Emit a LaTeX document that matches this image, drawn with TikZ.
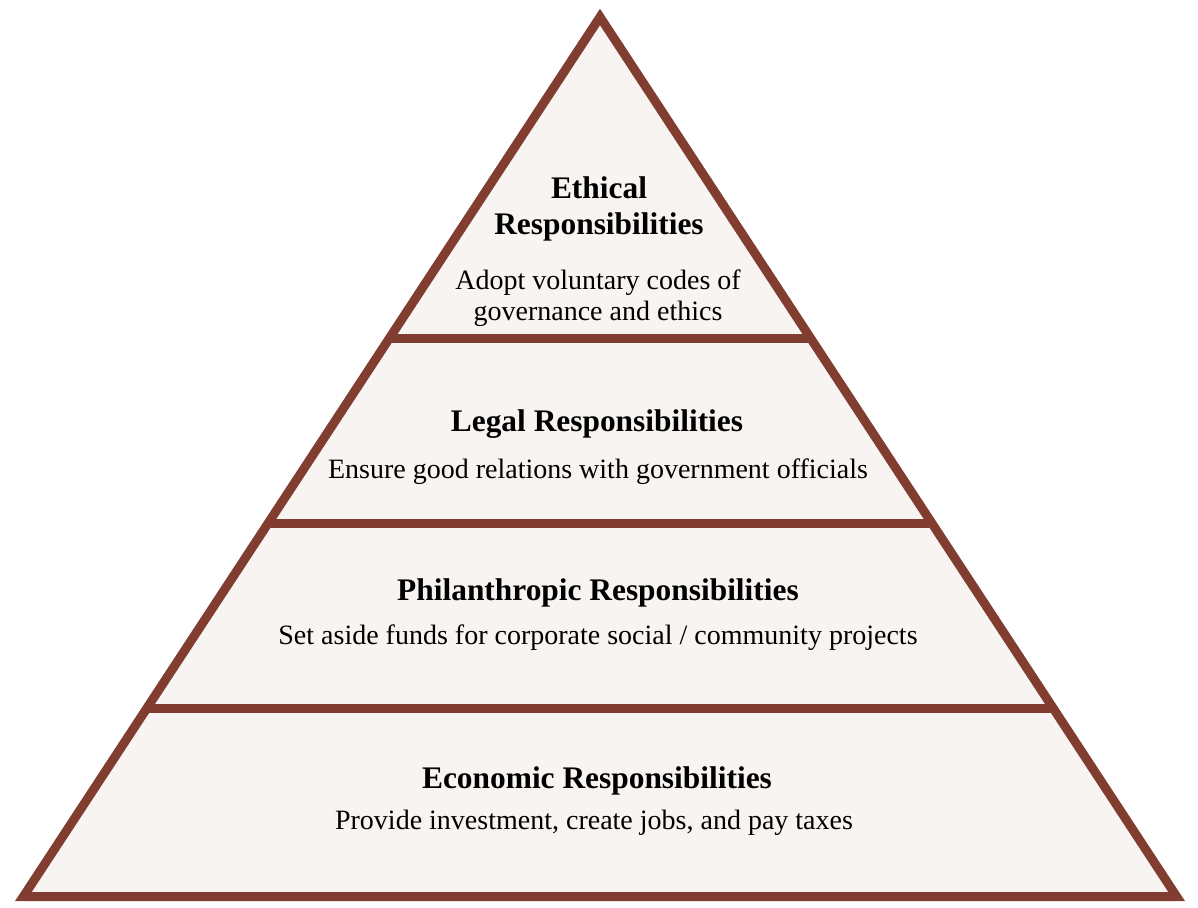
\documentclass[tikz,border=0pt]{standalone}
\usepackage{fontspec}
\setmainfont{Liberation Serif}
\usetikzlibrary{calc}
\definecolor{brick}{RGB}{128,61,48}
\definecolor{paper}{RGB}{247,244,241}

\begin{document}
\begin{tikzpicture}[x=0.5pt, y=-0.5pt,
        edge/.style={draw=brick, line width=4.5pt},
        title/.style={font=\fontsize{15.7}{18}\selectfont\bfseries, align=center},
        body/.style={font=\fontsize{14}{15.5}\selectfont, align=center}]
                \useasboundingbox (0,0) rectangle (1198,908);
                \coordinate (apex) at (600,17);
                \coordinate (bl) at (23.4,896.5);
                \coordinate (br) at (1176.6,896.5);

                \filldraw[edge, fill=paper, line join=miter] (apex) -- (bl) -- (br) -- cycle;
                \foreach \t in {0.365,0.5759,0.7862}
                    \draw[edge] ($(apex)!\t!(bl)$) -- ($(apex)!\t!(br)$);

                \node[title] (ethical) at (599,209) {Ethical\\Responsibilities};
                \node[body] (ethicaltxt) at (598,298) {Adopt voluntary codes of\\governance and ethics};
                \node[title] (legal) at (597,424) {Legal Responsibilities};
                \node[body] (legaltxt) at (598,472) {Ensure good relations with government officials};
                \node[title] (phil) at (598,593) {Philanthropic Responsibilities};
                \node[body] (philtxt) at (598,638) {Set aside funds for corporate social / community projects};
                \node[title] (econ) at (597,781) {Economic Responsibilities};
                \node[body] (econtxt) at (594,823) {Provide investment, create jobs, and pay taxes};
            \end{tikzpicture}
\end{document}
